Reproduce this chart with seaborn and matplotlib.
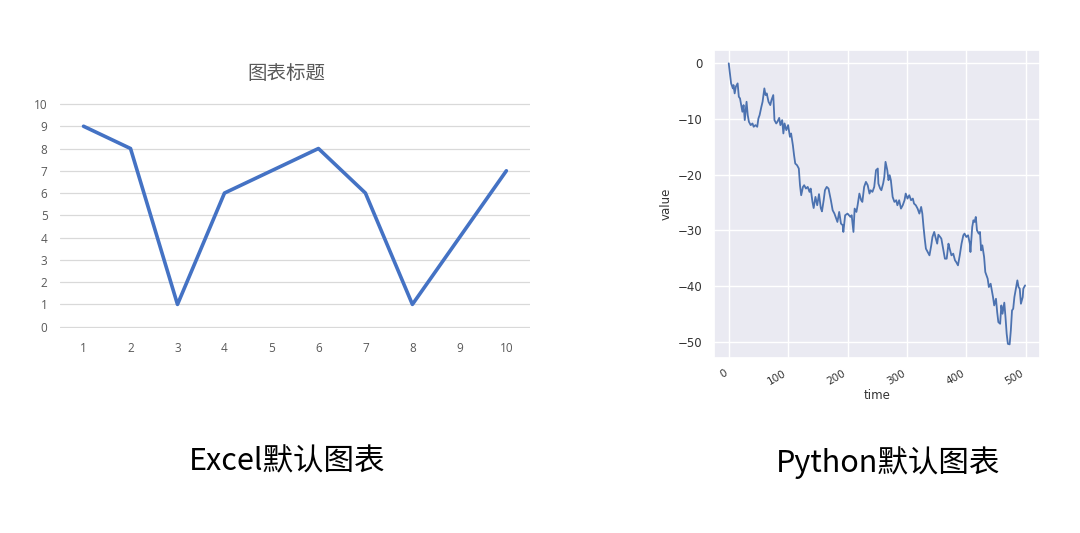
import matplotlib
matplotlib.use('Agg')
import matplotlib.pyplot as plt
import pandas as pd
import seaborn as sns

# Excel chart values (left)
excel_x = [1, 2, 3, 4, 5, 6, 7, 8, 9, 10]
excel_y = [9, 8, 1, 6, 7, 8, 6, 1, 4, 7]

# random walk (right)
walk_time = [0, 4, 7, 8, 10, 12, 15, 17, 19, 21, 23, 25, 27, 30, 32, 34, 37, 40, 42, 45,
             48, 50, 52, 55, 57, 60, 62, 64, 67, 70, 72, 75, 77, 80, 82, 85, 87, 90, 92, 94,
             97, 100, 103, 105, 108, 110, 112, 115, 118, 120, 122, 125, 127, 130, 133, 136, 138, 141, 143, 146,
             149, 152, 155, 157, 160, 162, 165, 168, 172, 175, 178, 180, 183, 186, 189, 192, 193, 196, 200, 205,
             207, 210, 212, 215, 217, 220, 223, 225, 228, 231, 234, 237, 239, 242, 245, 248, 251, 252, 255, 257,
             260, 262, 264, 267, 269, 271, 273, 276, 279, 282, 284, 287, 290, 293, 296, 298, 301, 304, 307, 310,
             312, 315, 318, 321, 324, 326, 328, 330, 332, 335, 338, 341, 343, 346, 348, 351, 353, 356, 358, 361,
             364, 367, 370, 372, 375, 378, 381, 383, 386, 389, 392, 395, 397, 400, 403, 406, 407, 410, 412, 414,
             416, 418, 421, 423, 425, 427, 430, 432, 434, 436, 438, 441, 443, 445, 447, 450, 452, 454, 457, 459,
             461, 464, 466, 468, 470, 473, 475, 477, 479, 481, 483, 486, 488, 490, 492, 495, 496, 499]
walk_value = [0, -3.6, -4.5, -3.9, -5.4, -4.2, -3.6, -6.0, -6.3, -7.5, -8.7, -7.5, -10.2, -6.9, -9.3, -10.5, -11.1, -10.8, -11.4, -11.1,
              -11.4, -9.9, -9.3, -7.8, -6.9, -4.5, -5.7, -5.4, -6.9, -7.5, -6.6, -5.7, -10.2, -10.8, -10.5, -9.8, -11.1, -10.2, -12.6, -10.8,
              -12.0, -11.1, -13.2, -12.6, -14.7, -16.5, -18.0, -18.3, -18.9, -21.9, -23.7, -22.2, -21.9, -22.5, -22.2, -23.1, -22.5, -24.9, -26.0, -24.0,
              -25.5, -23.5, -26.0, -26.6, -24.5, -22.8, -22.2, -22.5, -24.6, -26.4, -27.0, -27.6, -28.5, -26.7, -28.8, -29.1, -30.3, -27.3, -27.0, -27.6,
              -27.3, -30.3, -26.1, -26.7, -25.5, -23.4, -24.6, -24.9, -22.2, -21.3, -21.9, -23.4, -22.8, -23.1, -22.2, -19.2, -18.9, -21.6, -22.5, -22.8,
              -21.6, -20.4, -17.7, -19.2, -21.0, -20.1, -21.0, -24.0, -24.9, -24.6, -25.5, -24.6, -26.1, -25.5, -24.6, -23.4, -24.3, -23.7, -24.6, -24.3,
              -25.2, -25.5, -26.1, -27.0, -25.8, -27.0, -29.4, -31.5, -33.3, -33.9, -34.5, -32.7, -31.2, -30.3, -31.2, -32.4, -30.8, -31.2, -31.5, -33.3,
              -35.1, -35.1, -32.4, -33.3, -34.5, -34.2, -35.4, -35.7, -36.3, -34.5, -32.4, -30.9, -30.6, -31.2, -30.9, -32.4, -33.9, -29.4, -28.2, -28.5,
              -27.6, -30.0, -30.6, -30.3, -33.6, -32.7, -34.8, -37.5, -38.1, -38.7, -40.2, -39.6, -40.8, -42.0, -43.5, -42.3, -44.7, -46.5, -46.8, -43.5,
              -45.0, -43.0, -45.6, -48.6, -50.4, -50.5, -48.0, -44.4, -44.1, -42.0, -40.8, -39.0, -40.2, -40.5, -43.2, -42.0, -40.5, -39.9]

excel_df = pd.DataFrame({'x': excel_x, 'y': excel_y})
walk_df = pd.DataFrame({'time': walk_time, 'value': walk_value})

sns.set_theme(style='white')
plt.rcParams['font.family'] = ['Liberation Sans', 'Noto Sans CJK SC', 'DejaVu Sans']
plt.rcParams['axes.unicode_minus'] = True

fig = plt.figure(figsize=(10.8, 5.33), dpi=100)
fig.patch.set_facecolor('white')

# ---- left: Excel style ----
ax1 = fig.add_axes([0.0556, 0.385, 0.435, 0.422])
sns.lineplot(data=excel_df, x='x', y='y', ax=ax1, color='#4472C4', linewidth=2.6)
ax1.set_xlim(0.5, 10.5)
ax1.set_ylim(-0.05, 10.05)
ax1.set_yticks(range(0, 11))
ax1.set_xticks(excel_x)
ax1.grid(axis='y', color='#D9D9D9', linewidth=0.9)
ax1.set_axisbelow(True)
for s in ax1.spines.values():
    s.set_visible(False)
ax1.tick_params(axis='both', length=0, labelsize=8.5, labelcolor='#595959')
ax1.tick_params(axis='x', pad=10)
ax1.tick_params(axis='y', pad=9)
for lab in ax1.get_xticklabels() + ax1.get_yticklabels():
    lab.set_family('Open Sans')
ax1.set_xlabel('')
ax1.set_ylabel('')
fig.text(0.265, 0.863, '图表标题', ha='center', va='center', fontsize=14,
         color='#595959', family=['Noto Sans CJK SC'])

# ---- right: seaborn default ----
with sns.axes_style('darkgrid'):
    ax2 = fig.add_axes([0.661, 0.3278, 0.3019, 0.5784])
sns.lineplot(data=walk_df, x='time', y='value', ax=ax2, color='#4C72B0', linewidth=1.3)
ax2.set_xticks([0, 100, 200, 300, 400, 500])
ax2.set_yticks([0, -10, -20, -30, -40, -50])
ax2.set_xlim(-25, 524)
ax2.set_ylim(-53, 2.4)
ax2.tick_params(axis='y', labelsize=8.5, labelcolor='#333333', length=0, pad=8)
ax2.tick_params(axis='x', labelsize=7.5, labelcolor='#333333', length=0, pad=7)
for lab in ax2.get_xticklabels():
    lab.set_rotation(30)
    lab.set_ha('right')
ax2.set_xlabel('time', fontsize=8.5, color='#333333', labelpad=2)
ax2.set_ylabel('value', fontsize=8.5, color='#333333', labelpad=4)

# ---- captions ----
fig.text(0.2655, 0.133, 'Excel默认图表', ha='center', va='center', fontsize=22,
         color='black', family=['Noto Sans CJK SC'])
fig.text(0.8225, 0.133, 'Python默认图表', ha='center', va='center', fontsize=22,
         color='black', family=['Noto Sans CJK SC'])

fig.savefig('out.png', dpi=100, facecolor='white')
